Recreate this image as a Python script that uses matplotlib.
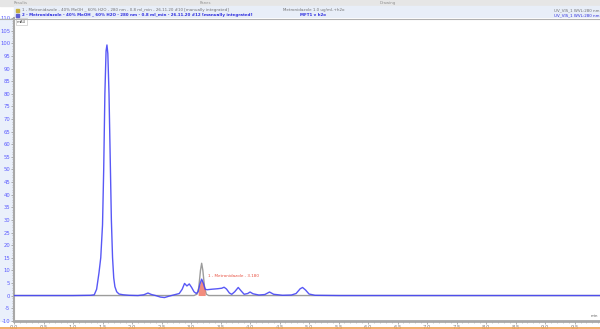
import matplotlib
matplotlib.use("Agg")
import matplotlib.pyplot as plt
import numpy as np
from matplotlib.patches import Rectangle
from matplotlib.lines import Line2D
from matplotlib.ticker import MultipleLocator

# === Chromatogram data (retention time in min, signal in mAU) ===
# trace 2: MFT1 v h2o
t_sample = [0.00, 1.00, 1.30, 1.36, 1.40, 1.44, 1.47, 1.50, 1.52, 1.54, 1.56, 1.575,
            1.59, 1.61, 1.63, 1.65, 1.67, 1.69, 1.71, 1.74, 1.78, 1.85, 1.95, 2.10,
            2.20, 2.27, 2.33, 2.40, 2.48, 2.55, 2.62, 2.70, 2.80, 2.85, 2.89, 2.93,
            2.97, 3.01, 3.05, 3.09, 3.12, 3.15, 3.18, 3.21, 3.24, 3.27, 3.35, 3.45,
            3.52, 3.56, 3.60, 3.65, 3.69, 3.74, 3.80, 3.85, 3.90, 3.96, 4.00, 4.05,
            4.15, 4.25, 4.33, 4.40, 4.55, 4.70, 4.78, 4.85, 4.89, 4.94, 5.00, 5.10,
            5.50, 10.00]
y_sample = [0.0, 0.0, 0.1, 0.3, 2.5, 9.0, 15.0, 28.0, 50.0, 80.0, 97.0, 99.4,
            96.0, 80.0, 55.0, 30.0, 15.0, 7.0, 3.5, 1.5, 0.6, 0.3, 0.1, 0.0,
            0.3, 1.0, 0.4, 0.0, -0.6, -0.8, -0.3, 0.2, 0.8, 2.5, 4.8, 3.8,
            4.6, 3.2, 1.5, 0.8, 1.5, 4.5, 6.5, 4.8, 2.5, 2.3, 2.5, 2.7,
            2.9, 3.3, 2.6, 1.0, 0.5, 1.5, 3.2, 1.8, 0.5, 0.8, 1.4, 0.7,
            0.2, 0.4, 1.4, 0.5, 0.1, 0.2, 0.8, 2.7, 3.2, 2.2, 0.6, 0.1,
            0.0, 0.0]

# trace 1: Metronidazole 1.0 ug/ml + h2o
t_std = [0.00, 3.05, 3.10, 3.13, 3.16, 3.18, 3.20, 3.23, 3.26, 3.30, 10.00]
y_std = [0.0, 0.0, 0.5, 3.0, 10.0, 12.8, 10.0, 3.0, 0.5, 0.0, 0.0]

# integrated window of the Metronidazole peak
peak_name = "1 - Metronidazole - 3.180"
peak_start, peak_end = 3.12, 3.24

W, H = 600, 329
fig = plt.figure(figsize=(W / 100, H / 100), dpi=100)


def fx(x):
    return x / W


def fy(y):
    return 1 - y / H


# window chrome: tab strip, legend band, y-label column
fig.patches.append(Rectangle((0, fy(6)), 1, 6 / H, transform=fig.transFigure,
                             color="#e6e6e6", zorder=-2))
fig.patches.append(Rectangle((fx(14), fy(18)), 1, 12 / H, transform=fig.transFigure,
                             color="#e8eef8", zorder=-2))
fig.patches.append(Rectangle((0, fy(321)), fx(13), 303 / H, transform=fig.transFigure,
                             color="#eaf0fb", zorder=-2))
fig.lines.append(Line2D([0, 1], [fy(18.5), fy(18.5)], transform=fig.transFigure,
                        color="#b0b0b0", lw=0.8))
fig.lines.append(Line2D([0, 1], [fy(328), fy(328)], transform=fig.transFigure,
                        color="#f0a050", lw=1.2))
fig.text(fx(14), fy(3.2), "Results", fontsize=2.8, color="#909090", va="center")
fig.text(fx(200), fy(3.2), "Panes", fontsize=2.8, color="#909090", va="center")
fig.text(fx(380), fy(3.2), "Drawing", fontsize=2.8, color="#909090", va="center")

# legend rows
fig.patches.append(Rectangle((fx(16), fy(12)), fx(3), 3 / H, transform=fig.transFigure,
                             color="#c8b040", zorder=1))
fig.patches.append(Rectangle((fx(16), fy(17)), fx(3), 3 / H, transform=fig.transFigure,
                             color="#6060d0", zorder=1))
row1 = "1 - Metronidazole - 40% MeOH _ 60% H2O - 280 nm - 0.8 ml_min - 26.11.20 #10 [manually integrated]"
row2 = "2 - Metronidazole - 40% MeOH _ 60% H2O - 280 nm - 0.8 ml_min - 26.11.20 #12 [manually integrated]"
fig.text(fx(22), fy(10.3), row1, fontsize=2.9, color="#707070", va="center")
fig.text(fx(22), fy(15.3), row2, fontsize=2.9, color="#3030e0", va="center",
         fontweight="bold")
fig.text(fx(283), fy(10.3), "Metronidazole 1.0 ug/ml-+h2o", fontsize=2.9,
         color="#707070", va="center")
fig.text(fx(300), fy(15.3), "MFT1 v h2o", fontsize=2.9, color="#3030e0",
         va="center", fontweight="bold")
fig.text(fx(599), fy(10.3), "UV_VIS_1 WVL:280 nm", fontsize=2.9, color="#707070",
         va="center", ha="right")
fig.text(fx(599), fy(15.3), "UV_VIS_1 WVL:280 nm", fontsize=2.9, color="#3030e0",
         va="center", ha="right")

# === Plot area ===
ax = fig.add_axes([fx(14), fy(321), 1 - fx(14), (321 - 18) / H])
ax.set_facecolor("white")
ax.set_xlim(0, 9.93)
ax.set_ylim(-10.1, 110.1)

ax.plot(t_std, y_std, color="#9c9c9c", lw=1.0, zorder=2)
ts = np.array(t_sample)
ys = np.array(y_sample)
win = (ts >= peak_start) & (ts <= peak_end)
ax.fill_between(ts, 0, ys, where=win, color="#f07868", alpha=0.85, lw=0, zorder=3)
ax.plot(ts, ys, color="#4646f5", lw=1.0, alpha=0.9, zorder=4)
ax.text(3.28, 7.9, peak_name, fontsize=3, color="#e85040", va="center")

for s in ["top", "right"]:
    ax.spines[s].set_visible(False)
ax.spines["left"].set_color("#a8a8a8")
ax.spines["left"].set_linewidth(1.5)
ax.spines["bottom"].set_color("#a8a8a8")
ax.spines["bottom"].set_linewidth(2)

ax.xaxis.set_major_locator(MultipleLocator(0.5))
ax.xaxis.set_minor_locator(MultipleLocator(0.1))
ax.yaxis.set_major_locator(MultipleLocator(5))
ax.yaxis.set_minor_locator(MultipleLocator(1))
ax.xaxis.set_major_formatter(plt.FuncFormatter(lambda v, p: f"{v:.1f}"))
ax.yaxis.set_major_formatter(plt.FuncFormatter(lambda v, p: f"{v:.0f}"))
ax.tick_params(axis="x", which="major", labelsize=3.8, labelcolor="#808080",
               color="#909090", length=2, width=0.5, pad=0.8)
ax.tick_params(axis="x", which="minor", color="#a0a0a0", length=1.2, width=0.4)
ax.tick_params(axis="y", which="major", labelsize=3.8, labelcolor="#5a5aff",
               color="#909090", length=2, width=0.5, pad=0.8)
ax.tick_params(axis="y", which="minor", color="#a0a0a0", length=1.2, width=0.4)

ax.text(0.005, 0.995, "mAU", transform=ax.transAxes, fontsize=2.8, color="#505050",
        va="top", ha="left",
        bbox=dict(boxstyle="square,pad=0.3", fc="white", ec="#c0c0c0", lw=0.4))
fig.text(fx(598), fy(316), "min", fontsize=2.8, color="#606060", ha="right",
         va="center")

plt.savefig("out.png", dpi=100)
